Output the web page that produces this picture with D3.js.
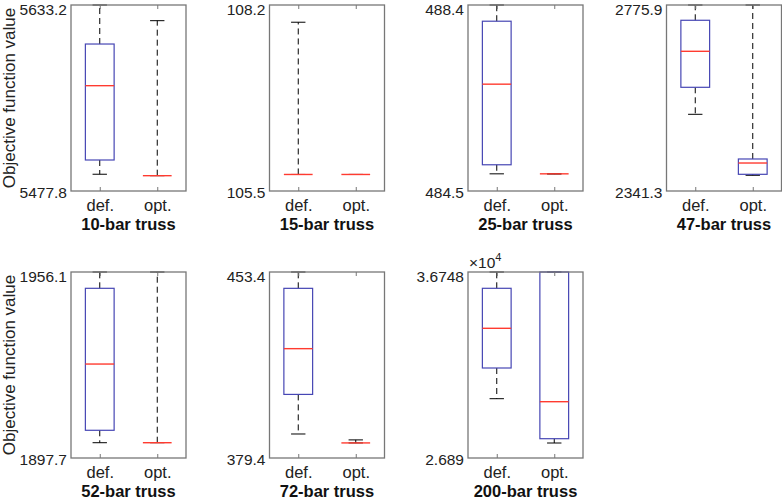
<!DOCTYPE html>
<html>
<head>
<meta charset="utf-8">
<script src="https://cdn.jsdelivr.net/npm/d3@7"></script>
<style>
  body { margin: 0; background: #fff; }
  svg { display: block; font-family: "Liberation Sans", Arial, Helvetica, sans-serif; }
</style>
</head>
<body>
<svg width="782" height="500"></svg>
<script>
// panel titles and y limits (only min / max are labelled)
var titles = ["10-bar truss", "15-bar truss", "25-bar truss", "47-bar truss",
              "52-bar truss", "72-bar truss", "200-bar truss"];
var yMin = [5477.8, 105.5, 484.5, 2341.3, 1897.7, 379.4, 2.689];
var yMax = [5633.2, 108.2, 488.4, 2775.9, 1956.1, 453.4, 3.6748];
var yMinLabels = ["5477.8", "105.5", "484.5", "2341.3", "1897.7", "379.4", "2.689"];
var yMaxLabels = ["5633.2", "108.2", "488.4", "2775.9", "1956.1", "453.4", "3.6748"];
var groups = ["def.", "opt."];

// box statistics, one pair [def, opt] per panel
var lowerW = [[5491.8, 5490.6], [105.74, 105.74], [484.86, 484.86], [2520.5, 2378.0],
              [1902.5, 1902.5], [388.95, 385.4], [3.0033, 2.7685]];
var q1     = [[5503.7, 5490.6], [105.74, 105.74], [485.05, 484.86], [2583.6, 2380.3],
              [1906.4, 1902.5], [404.7, 385.4], [3.166, 2.7913]];
var med    = [[5565.8, 5490.6], [105.74, 105.74], [486.74, 484.86], [2667.7, 2406.7],
              [1927.2, 1902.5], [422.9, 385.4], [3.3764, 2.9874]];
var q3     = [[5600.6, 5490.6], [105.74, 105.74], [488.06, 484.86], [2740.2, 2416.1],
              [1950.98, 1902.5], [446.9, 385.4], [3.5884, 3.6748]];
var upperW = [[5633.2, 5620.1], [107.95, 105.74], [488.4, 484.86], [2775.9, 2775.9],
              [1956.1, 1956.1], [453.4, 386.6], [3.6748, 3.6748]];

var svg = d3.select("svg");

var panelW = 115, panelH = 186;
var lefts = [71, 269.5, 468, 666.5];
var tops = [5, 272];

var boxColor = "#4646b4";
var medColor = "#ff3b30";
var frameColor = "#777";

titles.forEach(function (title, i) {
  var col = i % 4, row = Math.floor(i / 4);
  var left = lefts[col], top = tops[row];

  var x = d3.scaleLinear().domain([0.5, 2.5]).range([left, left + panelW]);
  var y = d3.scaleLinear().domain([yMin[i], yMax[i]]).range([top + panelH, top]);

  var g = svg.append("g");

  // whiskers
  [0, 1].forEach(function (k) {
    var cx = x(k + 1);
    g.append("line")
      .attr("x1", cx).attr("x2", cx)
      .attr("y1", y(q3[i][k])).attr("y2", y(upperW[i][k]))
      .attr("stroke", "#000").attr("stroke-width", 1).attr("stroke-dasharray", "6,4");
    g.append("line")
      .attr("x1", cx).attr("x2", cx)
      .attr("y1", y(q1[i][k])).attr("y2", y(lowerW[i][k]))
      .attr("stroke", "#000").attr("stroke-width", 1).attr("stroke-dasharray", "6,4");
    // caps
    [upperW[i][k], lowerW[i][k]].forEach(function (v) {
      g.append("line")
        .attr("x1", x(k + 1 - 0.125)).attr("x2", x(k + 1 + 0.125))
        .attr("y1", y(v)).attr("y2", y(v))
        .attr("stroke", "#000").attr("stroke-width", 1);
    });
    // box
    g.append("rect")
      .attr("x", x(k + 1 - 0.25))
      .attr("y", y(q3[i][k]))
      .attr("width", x(k + 1 + 0.25) - x(k + 1 - 0.25))
      .attr("height", y(q1[i][k]) - y(q3[i][k]))
      .attr("fill", "none").attr("stroke", boxColor).attr("stroke-width", 1.2);
    // median
    g.append("line")
      .attr("x1", x(k + 1 - 0.25)).attr("x2", x(k + 1 + 0.25))
      .attr("y1", y(med[i][k])).attr("y2", y(med[i][k]))
      .attr("stroke", medColor).attr("stroke-width", 1.4);
  });

  // frame
  g.append("rect")
    .attr("x", left).attr("y", top)
    .attr("width", panelW).attr("height", panelH)
    .attr("fill", "none").attr("stroke", frameColor).attr("stroke-width", 1.3);

  // x axis (bottom, labelled) and top ticks
  var xb = g.append("g")
    .attr("transform", "translate(0," + (top + panelH) + ")")
    .call(d3.axisBottom(x).tickValues([1, 2])
      .tickFormat(function (d, j) { return groups[j]; })
      .tickSizeInner(-4).tickSizeOuter(0).tickPadding(8.3));
  var xt = g.append("g")
    .attr("transform", "translate(0," + top + ")")
    .call(d3.axisTop(x).tickValues([1, 2]).tickFormat("")
      .tickSizeInner(-4).tickSizeOuter(0));

  // y axis with min / max only
  var yl = g.append("g")
    .attr("transform", "translate(" + left + ",0)")
    .call(d3.axisLeft(y).tickValues([yMin[i], yMax[i]])
      .tickFormat(function (d, j) { return j === 0 ? yMinLabels[i] : yMaxLabels[i]; })
      .tickSizeInner(0).tickSizeOuter(0).tickPadding(4));

  [xb, xt, yl].forEach(function (ax) {
    ax.select(".domain").remove();
    ax.attr("font-family", null);
    ax.selectAll(".tick line").attr("stroke", frameColor);
    ax.selectAll("text").attr("fill", "#222");
  });
  xb.selectAll("text").style("font-size", "16.5px");
  yl.selectAll("text").style("font-size", "15.5px")
    .attr("dy", function (d, j) { return j === 0 ? "0.42em" : "0.58em"; });

  // panel title
  g.append("text")
    .attr("x", left + panelW / 2)
    .attr("y", top + panelH + 38.5)
    .attr("text-anchor", "middle")
    .style("font-size", "16.5px").style("font-weight", "bold")
    .attr("fill", "#111")
    .text(title);

  if (col === 0) {
    g.append("text")
      .attr("transform", "translate(15," + (top + panelH / 2) + ") rotate(-90)")
      .attr("text-anchor", "middle")
      .style("font-size", "17px")
      .attr("fill", "#222")
      .text("Objective function value");
  }

  if (i === 6) {
    var ex = g.append("text")
      .attr("x", left + 1).attr("y", top - 4)
      .style("font-size", "15.5px").attr("fill", "#222");
    ex.append("tspan").text("\u00d710");
    ex.append("tspan").attr("dy", -7).style("font-size", "11px").text("4");
  }
});
</script>
</body>
</html>
